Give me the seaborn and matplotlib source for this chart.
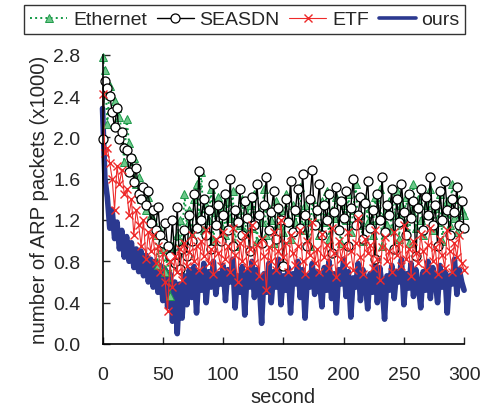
import numpy as np
import matplotlib
matplotlib.use("Agg")
import matplotlib.pyplot as plt
import seaborn as sns

# tempo em segundos (amostras a cada 2 s)
seconds = list(range(0, 301, 2))

ethernet = [
    2.78, 2.65, 2.13, 2.50, 2.40, 2.35, 2.28, 2.20, 2.05, 1.76, 2.18,
    1.95, 1.66, 1.80, 1.55, 1.62, 1.40, 1.50, 1.30, 1.42, 1.25,
    1.20, 1.05, 0.76, 1.10, 0.92, 0.70, 0.85, 0.46, 0.95, 0.80,
    1.05, 1.20, 0.98, 1.45, 1.15, 1.30, 1.05, 1.40, 1.55, 1.25,
    1.66, 1.10, 1.35, 1.20, 1.50, 1.00, 1.28, 1.42, 1.15, 1.32,
    1.05, 1.38, 1.22, 1.48, 0.95, 1.30, 1.15, 1.40, 1.08, 1.25,
    1.35, 1.12, 1.45, 1.00, 1.28, 1.18, 1.50, 1.05, 1.32, 1.20,
    0.98, 1.38, 1.15, 1.30, 1.08, 1.45, 1.22, 1.02, 1.35, 1.18,
    1.28, 1.52, 1.10, 1.35, 1.20, 0.95, 1.40, 1.15, 1.30, 1.05,
    1.38, 1.18, 1.48, 1.02, 1.30, 1.22, 1.42, 1.12, 0.98, 1.35,
    1.20, 1.45, 1.08, 1.30, 1.55, 1.15, 1.25, 1.00, 1.40, 1.18,
    1.32, 1.05, 1.42, 1.20, 1.50, 0.95, 1.28, 1.15, 1.38, 1.10,
    1.25, 1.48, 1.02, 1.35, 1.18, 1.42, 0.98, 1.30, 1.55, 1.12,
    1.40, 1.20, 1.05, 1.35, 1.25, 1.50, 1.10, 1.32, 1.18, 1.45,
    1.00, 1.28, 1.38, 1.15, 1.55, 1.22, 1.08, 1.40, 1.30, 1.25,
]

seasdn = [
    1.98, 2.55, 2.48, 2.40, 2.25, 2.10, 2.28, 1.98, 2.05, 1.90, 1.88,
    1.66, 1.80, 1.57, 1.70, 1.45, 1.40, 1.52, 1.35, 1.48, 1.17,
    1.30, 1.10, 1.33, 1.05, 0.98, 1.17, 0.95, 0.85, 1.20, 0.78,
    1.33, 0.73, 0.92, 1.10, 0.85, 1.25, 1.00, 1.45, 1.12, 1.67,
    1.20, 1.40, 1.05, 1.30, 0.92, 1.55, 1.15, 1.35, 1.00, 1.25,
    1.45, 1.10, 1.60, 0.95, 1.30, 1.18, 1.50, 1.05, 1.38, 1.22,
    0.90, 1.42, 1.15, 1.55, 1.25, 0.98, 1.35, 1.62, 1.10, 1.28,
    1.48, 1.02, 1.32, 1.20, 0.75, 1.40, 1.18, 1.58, 1.08, 1.30,
    1.50, 1.12, 1.65, 1.25, 0.95, 1.40, 1.68, 1.15, 1.30, 1.55,
    1.05, 1.35, 1.20, 1.45, 0.88, 1.28, 1.52, 1.10, 1.38, 1.22,
    1.48, 0.95, 1.32, 1.60, 1.15, 1.25, 1.42, 1.02, 1.36, 1.58,
    1.12, 1.30, 0.82, 1.45, 1.20, 1.62, 1.08, 1.35, 1.25, 1.50,
    0.92, 1.40, 1.18, 1.55, 1.28, 1.05, 1.45, 1.22, 1.38, 0.85,
    1.32, 1.50, 1.10, 1.42, 1.25, 1.62, 1.15, 1.35, 0.95, 1.48,
    1.20, 1.58, 1.30, 1.05, 1.40, 1.28, 1.52, 1.15, 1.38, 1.12,
]

etf = [
    2.42, 1.85, 1.90, 1.75, 1.60, 1.30, 1.72, 1.55, 1.68, 1.45, 1.50,
    1.25, 1.40, 1.05, 1.30, 1.15, 0.95, 1.20, 0.82, 1.08, 0.90,
    1.05, 0.78, 0.95, 0.70, 0.88, 0.60, 0.32, 0.80, 0.55, 0.85,
    0.70, 0.92, 0.62, 0.98, 0.75, 0.89, 1.05, 0.80, 0.95, 0.72,
    1.00, 0.85, 1.10, 0.78, 0.92, 0.68, 1.02, 0.88, 0.75, 1.08,
    0.82, 0.95, 0.70, 1.12, 0.86, 0.60, 0.98, 0.80, 1.05, 0.74,
    0.92, 1.15, 0.78, 0.96, 0.66, 1.02, 0.85, 0.52, 0.94, 0.80,
    1.08, 0.72, 0.90, 1.20, 0.84, 0.98, 0.70, 1.05, 0.88, 0.76,
    0.95, 1.10, 0.80, 0.68, 1.00, 0.86, 1.18, 0.78, 0.92, 0.70,
    1.06, 0.84, 0.96, 0.74, 1.12, 0.88, 0.65, 1.00, 0.82, 0.95,
    0.76, 1.08, 0.90, 0.72, 0.98, 1.22, 0.84, 0.68, 1.02, 0.88,
    0.96, 0.74, 1.10, 0.82, 0.62, 0.94, 1.04, 0.80, 0.90, 0.70,
    1.08, 0.86, 0.98, 0.75, 1.15, 0.82, 0.92, 0.66, 1.00, 0.88,
    0.78, 1.06, 0.90, 0.72, 0.96, 1.12, 0.80, 0.94, 0.68, 1.02,
    0.86, 0.74, 1.10, 0.90, 0.70, 0.98, 0.84, 1.05, 0.78, 0.72,
]

ours = [
    2.28, 1.60, 1.42, 1.12, 1.30, 1.02, 1.18, 0.92, 1.10, 0.84, 1.04,
    0.80, 0.98, 0.74, 0.92, 0.70, 0.90, 0.66, 0.86, 0.60, 0.82,
    0.55, 0.80, 0.50, 0.76, 0.42, 0.72, 0.36, 0.68, 0.22, 0.60,
    0.10, 0.58, 0.25, 0.66, 0.38, 0.72, 0.45, 0.75, 0.30, 0.70,
    0.52, 0.78, 0.40, 0.70, 0.55, 0.80, 0.48, 0.68, 0.58, 0.76,
    0.42, 0.72, 0.60, 0.82, 0.35, 0.66, 0.50, 0.75, 0.28, 0.70,
    0.55, 0.80, 0.45, 0.72, 0.60, 0.20, 0.68, 0.50, 0.78, 0.40,
    0.70, 0.55, 0.82, 0.38, 0.66, 0.52, 0.74, 0.30, 0.68, 0.58,
    0.80, 0.45, 0.72, 0.25, 0.66, 0.55, 0.78, 0.48, 0.70, 0.62,
    0.36, 0.74, 0.52, 0.80, 0.44, 0.68, 0.30, 0.72, 0.58, 0.82,
    0.46, 0.70, 0.26, 0.64, 0.55, 0.78, 0.42, 0.72, 0.60, 0.34,
    0.68, 0.50, 0.80, 0.40, 0.74, 0.56, 0.24, 0.66, 0.52, 0.76,
    0.44, 0.70, 0.60, 0.82, 0.38, 0.68, 0.54, 0.78, 0.46, 0.72,
    0.58, 0.35, 0.70, 0.52, 0.80, 0.44, 0.74, 0.62, 0.40, 0.76,
    0.55, 0.70, 0.30, 0.66, 0.58, 0.82, 0.48, 0.72, 0.60, 0.52,
]

x_ticks = [0, 50, 100, 150, 200, 250, 300]
y_ticks = [0.0, 0.4, 0.8, 1.2, 1.6, 2.0, 2.4, 2.8]

sns.set_style("ticks")
plt.rcParams['font.family'] = ['Liberation Sans', 'DejaVu Sans']

fig = plt.figure(figsize=(4.87, 4.14), dpi=100)
ax = fig.add_axes([0.2105, 0.1667, 0.7425, 0.6988])

sns.lineplot(x=seconds, y=ours, ax=ax, color='#2b3990', linewidth=4.0,
             label='ours', zorder=1, clip_on=False)
sns.lineplot(x=seconds, y=ethernet, ax=ax, color='#119944', linewidth=1.4,
             linestyle=':', marker='^', markersize=6, markerfacecolor='#6cc88a',
             markeredgecolor='#1f9a4a', markeredgewidth=0.7,
             label='Ethernet', zorder=2, clip_on=False)
sns.lineplot(x=seconds, y=seasdn, ax=ax, color='black', linewidth=1.0,
             marker='o', markersize=6.5, markerfacecolor='white',
             markeredgecolor='black', markeredgewidth=0.9,
             label='SEASDN', zorder=3, clip_on=False)
sns.lineplot(x=seconds, y=etf, ax=ax, color='#ee2a2a', linewidth=0.8,
             marker='x', markersize=6, markeredgewidth=1.0,
             markeredgecolor='#ee2a2a',
             label='ETF', zorder=4, clip_on=False)

ax.set_xlim(0, 300)
ax.set_ylim(0, 2.8)
ax.set_xticks(x_ticks)
ax.set_yticks(y_ticks)
ax.set_yticklabels([f"{v:.1f}" for v in y_ticks])
ax.tick_params(direction='in', length=5, width=1, labelsize=14, pad=16)
ax.set_xlabel('second', fontsize=14.5, labelpad=3)
ax.set_ylabel('number of ARP packets (x1000)', fontsize=14.7, labelpad=3)
sns.despine(ax=ax)
for s in ['left', 'bottom']:
    ax.spines[s].set_linewidth(1.2)
    ax.spines[s].set_color('black')
    ax.spines[s].set_zorder(5)

# legenda em cima, na ordem do original
handles, labels = ax.get_legend_handles_labels()
ordem = ['Ethernet', 'SEASDN', 'ETF', 'ours']
hmap = dict(zip(labels, handles))
ax.legend_.remove()
leg = fig.legend([hmap[k] for k in ordem], ordem, loc='upper center',
                 bbox_to_anchor=(0.503, 0.995), ncol=4, frameon=True,
                 fancybox=False, edgecolor='black', fontsize=14,
                 handlelength=1.9, handletextpad=0.3, columnspacing=0.5,
                 borderpad=0.3, borderaxespad=0.2)
leg.get_frame().set_linewidth(1.0)
leg.get_lines()[3].set_linewidth(2.6)

fig.savefig('out.png', dpi=100)
